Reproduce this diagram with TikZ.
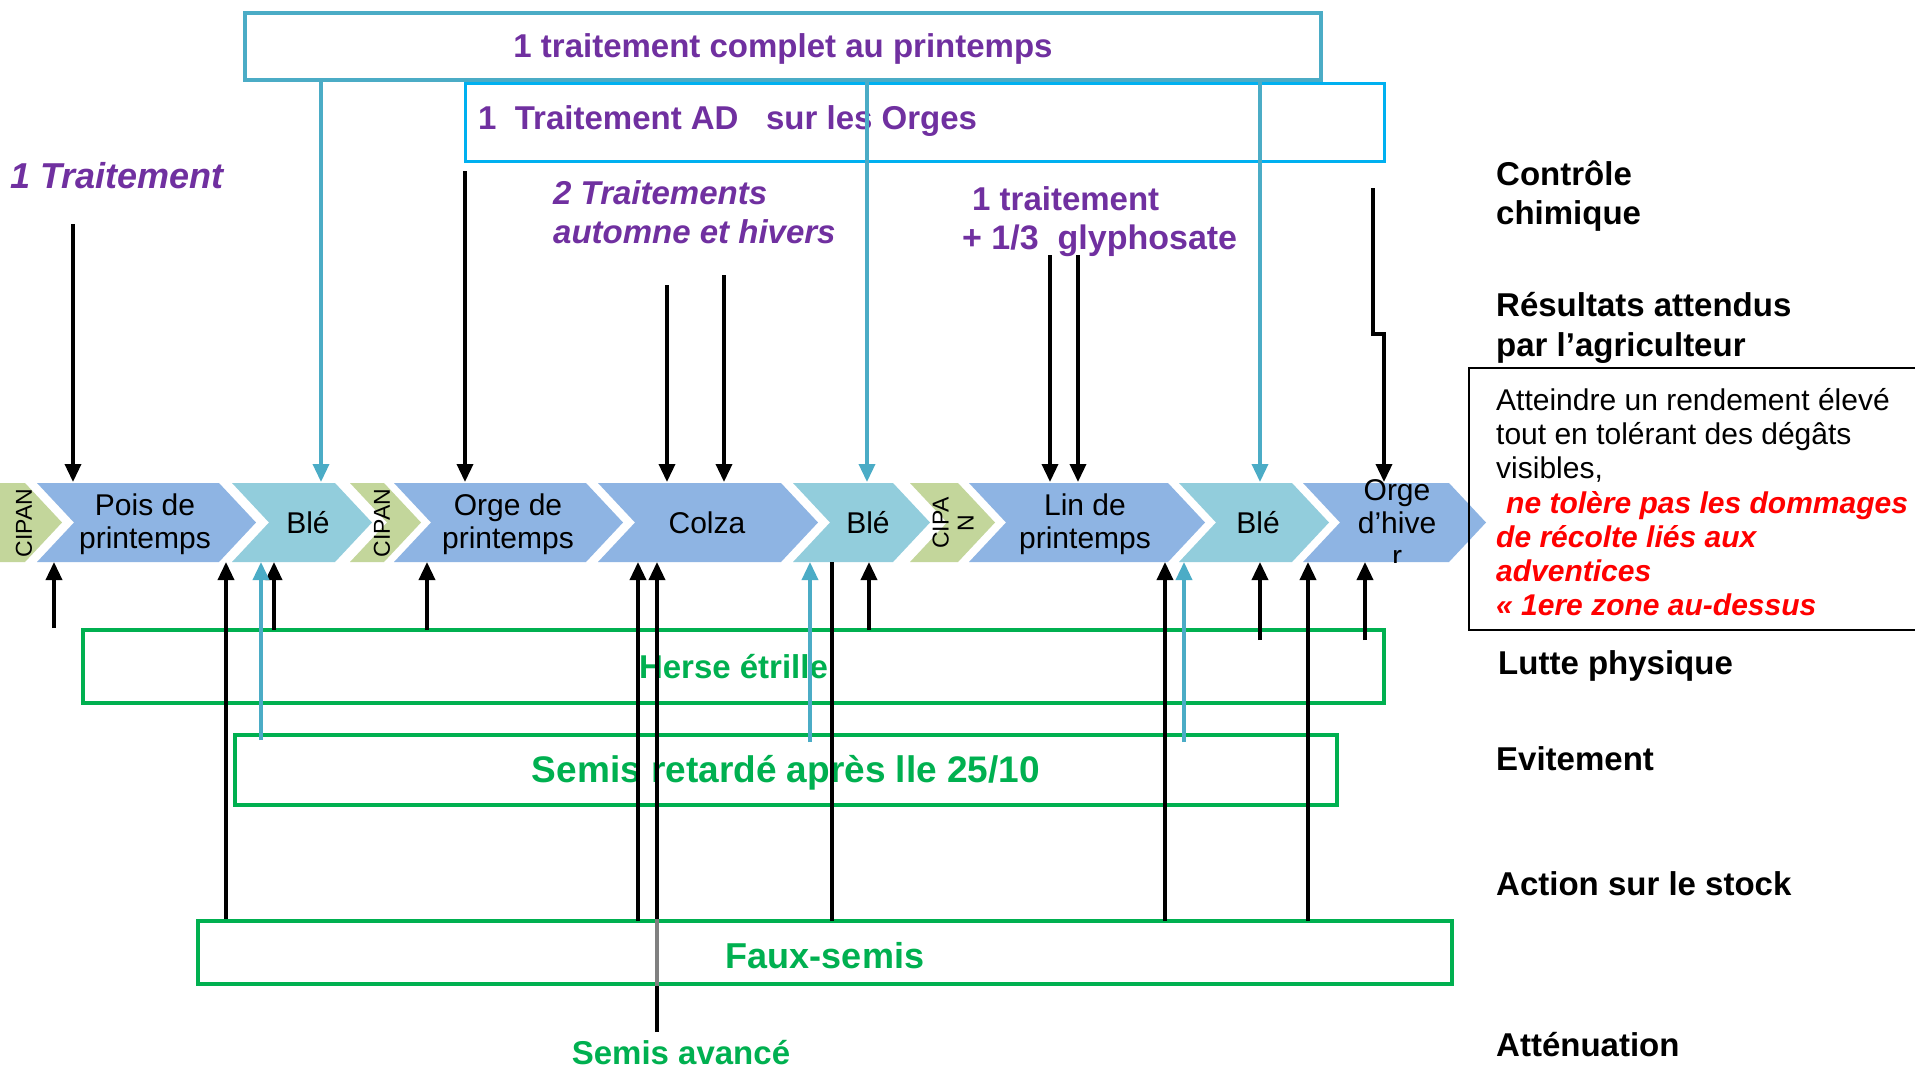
\documentclass[tikz,border=0pt]{standalone}
\usepackage{fontspec}
\setmainfont{Liberation Sans}
\usetikzlibrary{arrows.meta}
\definecolor{teal1}{HTML}{4BACC6}
\definecolor{cyan1}{HTML}{00B0F0}
\definecolor{purp}{HTML}{7030A0}
\definecolor{grn}{HTML}{00B050}
\definecolor{chblue}{HTML}{8EB4E3}
\definecolor{chlight}{HTML}{92CDDC}
\definecolor{chgreen}{HTML}{C3D69B}
\definecolor{redtx}{HTML}{FF0000}
\newcommand\fsz[2]{\fontsize{#1}{#2}\selectfont}
\newcommand\chev[3]{\fill[#3] (#1,483) -- ({#2-37},483) -- (#2,522.5) -- ({#2-37},562) -- (#1,562) -- ({#1+37},522.5) -- cycle;}
\tikzset{
  blkarrow/.style={draw=black, line width=3.5pt, -{Triangle[length=18pt,width=16pt]}},
  blkline/.style={draw=black, line width=3.5pt},
  tealarrow/.style={draw=teal1, line width=3.5pt, -{Triangle[length=18pt,width=16pt]}},
  chevlbl/.style={font=\fsz{30}{33}, align=center, inner sep=0pt},
  ciplbl/.style={font=\fsz{23}{25}, rotate=90, align=center, inner sep=0pt},
  sidelbl/.style={font=\bfseries\fsz{33}{38}, anchor=mid west, inner sep=0pt},
  purpit/.style={font=\bfseries\itshape\fsz{33}{38}, text=purp, anchor=mid west, inner sep=0pt},
  purpbf/.style={font=\bfseries\fsz{33}{38}, text=purp, anchor=mid west, inner sep=0pt},
  greenbox/.style={draw=grn, line width=3.5pt, text=grn, font=\bfseries\fsz{33}{38}, inner sep=0pt},
  boxtext/.style={font=\fsz{30}{34}, anchor=mid west, inner sep=0pt},
  redtext/.style={text=redtx, font=\bfseries\itshape\fsz{30}{34}, anchor=mid west, inner sep=0pt},
}
\begin{document}
\begin{tikzpicture}[x=1pt,y=-1pt]
\useasboundingbox[fill=white] (0,0) rectangle (1915,1069);

% ---------- chevrons ----------
\chev{-40}{62}{chgreen}
\chev{37}{256}{chblue}
\chev{232}{372}{chlight}
\chev{350}{421}{chgreen}
\chev{394}{623}{chblue}
\chev{598}{818}{chblue}
\chev{793}{930}{chlight}
\chev{910}{995}{chgreen}
\chev{969}{1205}{chblue}
\chev{1179}{1329}{chlight}
\chev{1303}{1486}{chblue}

\node[ciplbl] (cip1) at (24,523) {CIPAN};
\node[chevlbl] (pois) at (145,524.5) {Pois de\\printemps};
\node[chevlbl] (ble1) at (308,523) {Blé};
\node[ciplbl] (cip2) at (382,523) {CIPAN};
\node[chevlbl] (orgep) at (508,524.5) {Orge de\\printemps};
\node[chevlbl] (colza) at (707,523) {Colza};
\node[chevlbl] (ble2) at (868,523) {Blé};
\node[ciplbl] (cip3) at (953,523) {CIPA\\N};
\node[chevlbl] (lin) at (1085,524.5) {Lin de\\printemps};
\node[chevlbl] (ble3) at (1258,523) {Blé};
\begin{scope}
\clip (1290,400) rectangle (1500,562);
\node[chevlbl] (orgeh) at (1397,523) {Orge\\d'hive\\r};
\end{scope}

% ---------- top boxes ----------
\node[draw=teal1, line width=4.5pt, minimum width=1076pt, minimum height=67pt, inner sep=0pt] (boxA) at (783,46.5) {};
\node[text=purp, font=\bfseries\fsz{33}{38}, inner sep=0pt] (boxAt) at (783,49) {1 traitement complet au printemps};
\node[draw=cyan1, line width=3pt, minimum width=919pt, minimum height=78pt, inner sep=0pt] (boxB) at (924.5,122) {};
\node[purpbf] (boxBt) at (478,127) {1\ \ Traitement AD\ \ \ sur les Orges};

\node[purpit, font=\bfseries\itshape\fsz{36}{40}] (t1) at (10,186) {1 Traitement};
\node[purpit] (t2a) at (553,202) {2 Traitements};
\node[purpit] (t2b) at (553,241) {automne et hivers};
\node[purpbf] (t3a) at (972,208) {1 traitement};
\node[purpbf, font=\bfseries\fsz{34}{38}] (t3b) at (962,247) {+ 1/3\ \ glyphosate};

% ---------- right labels ----------
\node[sidelbl] (l1a) at (1496,183) {Contrôle};
\node[sidelbl] (l1b) at (1496,222) {chimique};
\node[sidelbl] (l2a) at (1496,314) {Résultats attendus};
\node[sidelbl] (l2b) at (1496,354) {par l’agriculteur};
\node[draw=black, line width=2.5pt, minimum width=470pt, minimum height=262pt, inner sep=0pt] (resbox) at (1704,499) {};
\node[boxtext] (r1) at (1496,408) {Atteindre un rendement élevé};
\node[boxtext] (r2) at (1496,442) {tout en tolérant des dégâts};
\node[boxtext] (r3) at (1496,476) {visibles,};
\node[redtext] (r4) at (1506,511) {ne tolère pas les dommages};
\node[redtext] (r5) at (1496,545) {de récolte liés aux};
\node[redtext] (r6) at (1496,579) {adventices};
\node[redtext] (r7) at (1496,613) {« 1ere zone au-dessus};
\node[sidelbl] (l3) at (1498,672) {Lutte physique};
\node[sidelbl] (l4) at (1496,768) {Evitement};
\node[sidelbl] (l5) at (1496,893) {Action sur le stock};
\node[sidelbl] (l6) at (1496,1054) {Atténuation};

% ---------- green boxes ----------
\node[greenbox, minimum width=1301pt, minimum height=73pt] (herse) at (733.5,666.5) {Herse étrille};
\node[greenbox, line width=4.5pt, minimum width=1102pt, minimum height=70pt] (semisr) at (786,770) {};
\node[text=grn, font=\bfseries\fsz{37}{42}, inner sep=0pt] (semisrt) at (786,773) {Semis retardé après lle 25/10};
\node[greenbox, minimum width=1254pt, minimum height=63pt] (faux) at (825,952.5) {};
\node[text=grn, font=\bfseries\fsz{36}{40}, inner sep=0pt] (fauxt) at (825,956) {Faux-semis};
\node[text=grn, font=\bfseries\fsz{33}{38}, inner sep=0pt] (semisa) at (681,1053) {Semis avancé};

% ---------- coordinates ----------
\foreach \n/\x/\y in {d1/73/224, d2/465/171, d3/667/285, d4/724/275, d5/1050/255, d6/1078/255}
  {\coordinate (\n s) at (\x,\y); \coordinate (\n e) at (\x,482);}
\coordinate (j1) at (1373,188); \coordinate (j2) at (1373,334); \coordinate (j3) at (1384,334); \coordinate (j4) at (1384,482);
\foreach \n/\x in {ta/321, tb/867, tc/1260}
  {\coordinate (\n s) at (\x,80); \coordinate (\n e) at (\x,482);}
\foreach \n/\x/\y in {u1/54/628, u2/226/919, u3/274/630, u4/427/630, u5/638/921, u6/657/1032, u7/869/630, u8/1165/921, u9/1260/640, u10/1308/921, u11/1365/640}
  {\coordinate (\n s) at (\x,\y); \coordinate (\n e) at (\x,562);}
\coordinate (p1s) at (832,921); \coordinate (p1e) at (832,562);
\foreach \n/\x/\y in {v1/261/740, v2/810/742, v3/1184/742}
  {\coordinate (\n s) at (\x,\y); \coordinate (\n e) at (\x,562);}

% ---------- connectors ----------
\foreach \n in {d1,d2,d3,d4,d5,d6} {\draw[blkarrow] (\n s) -- (\n e);}
\draw[blkarrow] (j1) -- (j2) -- (j3) -- (j4);
\foreach \n in {ta,tb,tc} {\draw[tealarrow] (\n s) -- (\n e);}
\foreach \n in {u1,u2,u3,u4,u5,u6,u7,u8,u9,u10,u11} {\draw[blkarrow] (\n s) -- (\n e);}
\draw[blkline] (p1s) -- (p1e);
\foreach \n in {v1,v2,v3} {\draw[tealarrow] (\n s) -- (\n e);}
\draw[draw=gray, line width=3.5pt] (faux.north -| u6s) -- (faux.south -| u6s);
\end{tikzpicture}
\end{document}
